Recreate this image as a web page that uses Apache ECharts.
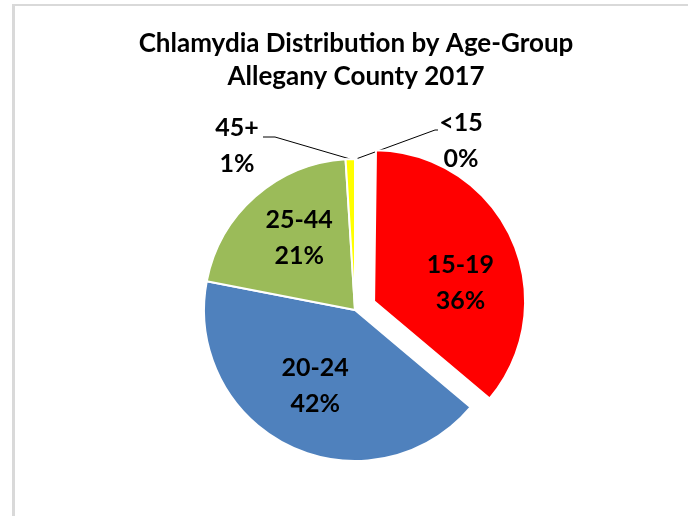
<!DOCTYPE html>
<html>
<head>
<meta charset="utf-8">
<script src="https://cdn.jsdelivr.net/npm/echarts@6/dist/echarts.min.js"></script>
<style>
html, body { margin: 0; padding: 0; background: #fff; overflow: hidden; }
#main { position: absolute; left: 0; top: 0; width: 688px; height: 516px; }
#frame { position: absolute; left: 12px; top: 4px; width: 676px; height: 512px; box-sizing: border-box;
         border-left: 3px solid #d9d9d9; border-top: 2px solid #d9d9d9; pointer-events: none; }
</style>
</head>
<body>
<div id="main"></div>
<div id="frame"></div>
<script>
// age groups, clockwise from 12 o'clock
var ageGroups = ['<15', '15-19', '20-24', '25-44', '45+'];
// percent of cases (the <15 share is a sliver that rounds to 0%)
var shares = [0.2, 36, 42, 21, 1];
var sliceColors = ['#F79646', '#FF0000', '#4F81BD', '#9BBB59', '#FFFF00'];
var explodedGroup = '15-19';

// label nudges (inside labels) and label centres (outside labels)
var insideShift = { 1: [15, 14], 2: [-6, 5], 3: [-4, -13] };
var outsideAt = { 0: [461, 141], 4: [237, 146] };

var labelFont = 'Lato, "Noto Sans", sans-serif';

var chart = echarts.init(document.getElementById('main'));

var pieData = ageGroups.map(function (name, i) {
    var item = {
        name: name,
        value: shares[i],
        itemStyle: { color: sliceColors[i] },
        selected: name === explodedGroup
    };
    if (outsideAt[i]) {
        item.label = { position: 'outside' };
        item.labelLine = { show: true };
    }
    return item;
});

var option = {
    animation: false,
    title: {
        text: 'Chlamydia Distribution by Age-Group\nAllegany County 2017',
        left: 356,
        top: 27,
        padding: 0,
        textAlign: 'center',
        textStyle: {
            fontFamily: labelFont,
            fontSize: 26,
            fontWeight: 'bold',
            color: '#000',
            lineHeight: 33
        }
    },
    series: [
        {
            type: 'pie',
            center: [355, 310],
            radius: 151,
            startAngle: 90,
            clockwise: true,
            selectedMode: 'single',
            selectedOffset: 21,
            avoidLabelOverlap: false,
            data: pieData,
            itemStyle: { borderColor: '#fff', borderWidth: 2 },
            select: { itemStyle: { borderColor: '#fff', borderWidth: 2 } },
            emphasis: { disabled: true },
            label: {
                show: true,
                position: 'inside',
                formatter: function (p) {
                    return p.name + '\n' + Math.round(p.percent) + '%';
                },
                fontFamily: labelFont,
                fontSize: 25,
                fontWeight: 'bold',
                lineHeight: 36,
                color: '#000'
            },
            labelLine: {
                length: 15,
                length2: 10,
                lineStyle: { color: '#000', width: 1 }
            },
            labelLayout: function (params) {
                var i = params.dataIndex;
                if (outsideAt[i]) {
                    var c = outsideAt[i];
                    var start = params.labelLinePoints ? params.labelLinePoints[0] : [355, 159];
                    var pts;
                    if (c[0] < 355) {
                        pts = [start, [c[0] + 38, c[1] - 9], [c[0] + 26, c[1] - 9]];
                    } else {
                        pts = [start, [c[0] - 26, c[1] - 11], [c[0] - 23, c[1] - 11]];
                    }
                    return {
                        x: c[0], y: c[1],
                        align: 'center', verticalAlign: 'middle',
                        labelLinePoints: pts
                    };
                }
                var s = insideShift[i] || [0, 0];
                return { dx: s[0], dy: s[1] };
            }
        }
    ]
};

chart.setOption(option);
</script>
</body>
</html>
